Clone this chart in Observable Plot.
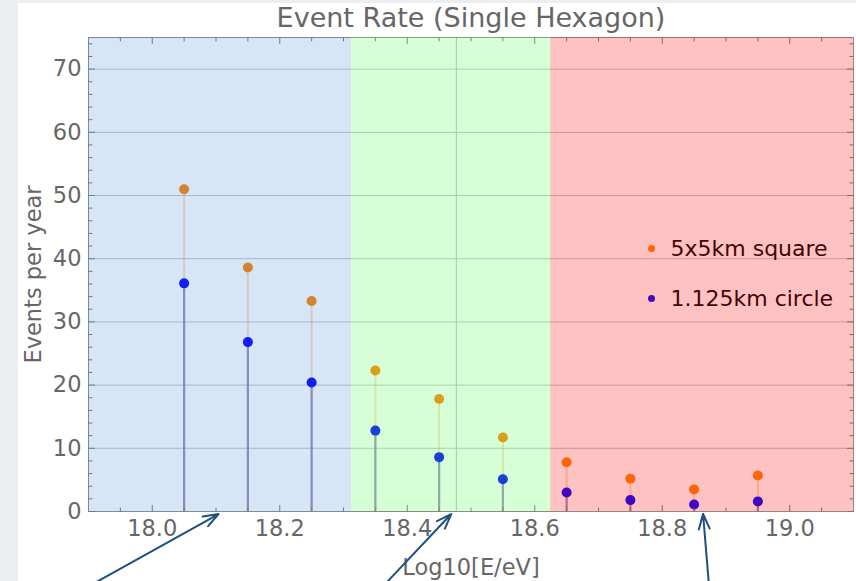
<!DOCTYPE html>
<html>
<head>
<meta charset="utf-8">
<script src="https://cdn.jsdelivr.net/npm/d3@7"></script>
<script src="https://cdn.jsdelivr.net/npm/@observablehq/plot@0.6"></script>
<style>
  html, body { margin: 0; padding: 0; background: #eceef2; width: 856px; height: 581px; overflow: hidden; }
  #card { position: absolute; left: 18px; top: 0px; width: 838px; height: 581px; background: linear-gradient(#eceef2 0px, #eceef2 3px, #ffffff 3px); }
</style>
</head>
<body>
<div id="card"></div>
<script>
// ---- data ----
const energies = [18.05, 18.15, 18.25, 18.35, 18.45, 18.55, 18.65, 18.75, 18.85, 18.95];
const squareRates = [51.0, 38.6, 33.3, 22.3, 17.8, 11.7, 7.8, 5.2, 3.5, 5.7];
const circleRates = [36.1, 26.8, 20.4, 12.8, 8.6, 5.1, 3.0, 1.8, 1.1, 1.6];
const seriesNames = ["5x5km square", "1.125km circle"];
const regionStart = [17.9, 18.3125, 18.625];
const regionEnd = [18.3125, 18.625, 19.1];
const markerLine = [18.477];
const xTicks = [18.0, 18.2, 18.4, 18.6, 18.8, 19.0];
const yTicks = [0, 10, 20, 30, 40, 50, 60, 70];
const xMinorTicks = [17.95, 18.05, 18.1, 18.15, 18.25, 18.3, 18.35, 18.45, 18.5, 18.55, 18.65, 18.7, 18.75, 18.85, 18.9, 18.95, 19.05];
const yMinorTicks = [2, 4, 6, 8, 12, 14, 16, 18, 22, 24, 26, 28, 32, 34, 36, 38, 42, 44, 46, 48, 52, 54, 56, 58, 62, 64, 66, 68, 72, 74];
const arrowFromX = [17.91, 18.367, 18.873];
const arrowToX = [18.104, 18.469, 18.864];
const arrowFromY = [-11.3, -11.3, -11.3];
const arrowToY = [-0.4, -0.4, -0.4];

// ---- styles ----
const orange = "#ff8000";
const blue = "#0000ff";
const regionColors = ["rgb(70,140,215)", "rgb(97,255,97)", "rgb(255,20,20)"];
const regionOpacity = [0.22, 0.25, 0.26];

const rows = energies.map((e, i) => ({e, sq: squareRates[i], ci: circleRates[i]}));
const regions = regionStart.map((s, i) => ({s, t: regionEnd[i], i}));
const arrows = arrowFromX.map((x, i) => ({x1: x, y1: arrowFromY[i], x2: arrowToX[i], y2: arrowToY[i]}));

const tickShape = {draw(context, l) { context.moveTo(0, 0); context.lineTo(0, -l); }};
function ticks(vals, anchor, rot, len) {
  return Plot.vector(vals, {
    [anchor === "bottom" || anchor === "top" ? "x" : "y"]: d => d,
    frameAnchor: anchor, rotate: rot, length: len, anchor: "start",
    shape: tickShape, stroke: "#777", strokeWidth: 1
  });
}

const chart = Plot.plot({
  width: 838,
  height: 581,
  marginLeft: 70,
  marginRight: 3,
  marginTop: 37,
  marginBottom: 70,
  style: {fontFamily: "DejaVu Sans", fontSize: "22px", color: "#666", background: "transparent", overflow: "visible"},
  x: {domain: [17.9, 19.1]},
  y: {domain: [0, 75]},
  marks: [
    Plot.gridY(yTicks.filter(d => d > 0), {stroke: "#c4c4c4", strokeOpacity: 1, strokeWidth: 1}),
    Plot.ruleX(markerLine, {stroke: "#b8b8b8", strokeWidth: 1}),
    Plot.ruleX(rows, {x: "e", y1: 0, y2: "sq", stroke: orange, strokeOpacity: 0.28, strokeWidth: 2}),
    Plot.ruleX(rows, {x: "e", y1: 0, y2: "ci", stroke: "#5858b0", strokeOpacity: 0.6, strokeWidth: 2.2}),
    Plot.dot(rows, {x: "e", y: "sq", r: 5, fill: orange, stroke: "none"}),
    Plot.dot(rows, {x: "e", y: "ci", r: 5, fill: blue, stroke: "none"}),
    // legend
    Plot.dot([seriesNames[0]], {frameAnchor: "top-right", dx: -202, dy: 211, r: 3.5, fill: orange, stroke: "none"}),
    Plot.dot([seriesNames[1]], {frameAnchor: "top-right", dx: -202, dy: 261, r: 3.5, fill: blue, stroke: "none"}),
    Plot.text([seriesNames[0]], {frameAnchor: "top-right", dx: -183, dy: 211, text: d => d, textAnchor: "start", lineAnchor: "middle", fontSize: 22, fill: "#000"}),
    Plot.text([seriesNames[1]], {frameAnchor: "top-right", dx: -183, dy: 261, text: d => d, textAnchor: "start", lineAnchor: "middle", fontSize: 22, fill: "#000"}),
    Plot.frame({stroke: "#8a8a8a", strokeWidth: 1}),
    ticks(xTicks, "bottom", 0, 6), ticks(xMinorTicks, "bottom", 0, 3.5),
    ticks(xTicks, "top", 180, 6), ticks(xMinorTicks, "top", 180, 3.5),
    ticks(yTicks, "left", 90, 6), ticks(yMinorTicks, "left", 90, 3.5),
    ticks(yTicks, "right", -90, 6), ticks(yMinorTicks, "right", -90, 3.5),
    // coloured region overlays
    Plot.rect(regions, {x1: "s", x2: "t", y1: 0, y2: 75, fill: d => regionColors[d.i], fillOpacity: d => regionOpacity[d.i]}),
    Plot.axisX({ticks: xTicks, tickSize: 0, tickPadding: 9, tickFormat: d3.format(".1f"), fill: "#666",
      label: "Log10[E/eV]", labelAnchor: "center", labelOffset: 63, labelArrow: "none", fontSize: 22.5}),
    Plot.axisY({ticks: yTicks, tickSize: 0, tickPadding: 7, fontSize: 22.5, fill: "#666",
      label: "Events per year", labelAnchor: "center", labelOffset: 63, labelArrow: "none"}),
    Plot.text(["Event Rate (Single Hexagon)"], {frameAnchor: "top", dy: -19, text: d => d, fontSize: 27, fill: "#666", lineAnchor: "middle"}),
    Plot.arrow(arrows, {x1: "x1", y1: "y1", x2: "x2", y2: "y2", stroke: "#1f4f82", strokeWidth: 2, headLength: 12, headAngle: 40})
  ]
});
document.getElementById("card").appendChild(chart);
</script>
</body>
</html>
